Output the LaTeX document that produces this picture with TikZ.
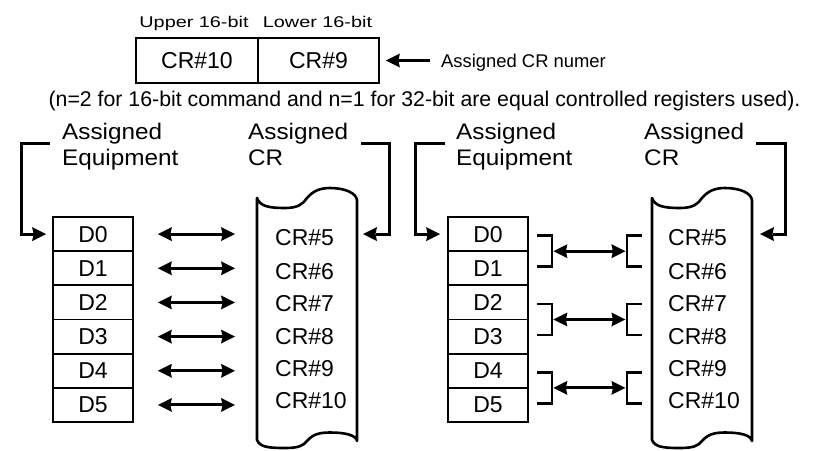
\documentclass[tikz,border=0pt]{standalone}
\usepackage{fontspec}
\setmainfont{Liberation Sans}
\newfontfamily\widefont[FakeStretch=1.28]{Liberation Sans}
\newfontfamily\labfont[FakeStretch=1.08]{Liberation Sans}
\usetikzlibrary{arrows.meta,calc}
\begin{document}
\begin{tikzpicture}[x=1pt,y=-1pt,
 tipA/.tip={Stealth[length=14pt,width=14pt,inset=1.5pt,line width=0pt]},
 arr/.style={line width=3pt,-tipA},
 dbl/.style={line width=3pt,tipA-tipA},
 brk/.style={line width=2.8pt},
 regbox/.style={draw,line width=1.8pt,minimum width=80pt,minimum height=34.17pt,inner sep=0pt,font=\fontsize{23}{27}\selectfont},
 topbox/.style={draw,line width=1.8pt,minimum height=45pt,inner sep=0pt,font=\fontsize{23}{27}\selectfont},
 crl/.style={anchor=base west,inner sep=0pt,font=\fontsize{23}{27}\selectfont},
 lab/.style={anchor=base west,inner sep=0pt,font=\labfont\fontsize{22.5}{26}\selectfont},
 bitlab/.style={anchor=base,inner sep=0pt,font=\widefont\fontsize{15.5}{18}\selectfont},
 scrollline/.style={line width=2.6pt,line join=round}
]
\useasboundingbox (0,0) rectangle (826,450);

% top register box
\node[topbox,minimum width=122pt] (b10) at (197,60.5) {CR\#10};
\node[topbox,minimum width=121pt] (b9) at (318.5,60.5) {CR\#9};
\node[bitlab] (up) at (194,27) {Upper 16-bit};
\node[bitlab] (lo) at (317.5,27) {Lower 16-bit};
\node[anchor=base west,inner sep=0pt,font=\fontsize{18.4}{22}\selectfont] (acr) at (441,67) {Assigned CR numer};
\draw[arr] ($(acr.west |- b9.east)+(-11,0)$) -- ($(b9.east)+(6,0)$);
\node[anchor=base,inner sep=0pt,font=\fontsize{21.3}{25}\selectfont] (note) at (424.5,106) {(n=2 for 16-bit command and n=1 for 32-bit are equal controlled registers used).};

% scrolls
\foreach \ox in {0,395}{
\begin{scope}[xshift=\ox pt]
\draw[scrollline] (257,198) -- (257,440)
 .. controls (260,447) and (268,448) .. (285,448)
 .. controls (298,448) and (303,446) .. (307,441)
 .. controls (313,434) and (320,432.5) .. (330,432.5)
 .. controls (345,432.5) and (356,435) .. (357,441)
 -- (357,200)
 .. controls (356,193) and (345,188) .. (330,188)
 .. controls (320,188) and (313,191) .. (307,198)
 .. controls (303,204) and (298,208) .. (285,208)
 .. controls (268,208) and (260,206) .. cycle;
\end{scope}}
\coordinate (sRl) at (357,234.08);
\coordinate (sRr) at (752,234.08);

% registers D
\foreach \i in {0,...,5}{
 \node[regbox] (d\i) at (93,{234.08+34.17*\i}) {D\i};
 \node[regbox] (e\i) at (488,{234.08+34.17*\i}) {D\i};
}
% CR labels
\foreach \n/\y in {5/245,6/279,7/311,8/344,9/376,10/408}{
 \node[crl] (c\n) at (275,\y) {CR\#\n};
 \node[crl] (f\n) at (668,\y) {CR\#\n};
}

% labels
\node[lab] (la1) at (62,139) {Assigned};
\node[lab] (la2) at (62,165) {Equipment};
\node[lab] (lb1) at (248,139) {Assigned};
\node[lab] (lb2) at (248,165) {CR};
\node[lab] (ra1) at (456,139) {Assigned};
\node[lab] (ra2) at (456,165) {Equipment};
\node[lab] (rb1) at (644,139) {Assigned};
\node[lab] (rb2) at (644,165) {CR};

\draw[arr] ($(la1.base west)+(-12,4)$) -| ($(d0.west)+(-31,0)$) -- ($(d0.west)+(-6,0)$);
\draw[arr] ($(lb1.base east)+(13,4)$) -| ($(sRl)+(32,0)$) -- ($(sRl)+(6,0)$);
\draw[arr] ($(ra1.base west)+(-11,4)$) -| ($(e0.west)+(-32,0)$) -- ($(e0.west)+(-7,0)$);
\draw[arr] ($(rb1.base east)+(12,4)$) -| ($(sRr)+(33,0)$) -- ($(sRr)+(8,0)$);

% left: one-to-one arrows
\foreach \i in {0,...,5}{
 \draw[dbl] ($(d\i.east)+(24,0)$) -- ($(d\i.east -| c5.west)+(-40,0)$);
}
% right: paired arrows
\foreach \a/\b in {0/1,2/3,4/5}{
 \draw[brk] ($(e\a.east)+(8,1.5)$) -| ($(e\b.east)+(23,-1.5)$) -- ($(e\b.east)+(8,-1.5)$);
 \draw[brk] ($(e\a.east)+(113,1.5)$) -| ($(e\b.east)+(98,-1.5)$) -- ($(e\b.east)+(113,-1.5)$);
 \draw[dbl] ($(e\a.east)!0.5!(e\b.east)+(24.5,0)$) -- ($(e\a.east)!0.5!(e\b.east)+(96.5,0)$);
}
\end{tikzpicture}
\end{document}
